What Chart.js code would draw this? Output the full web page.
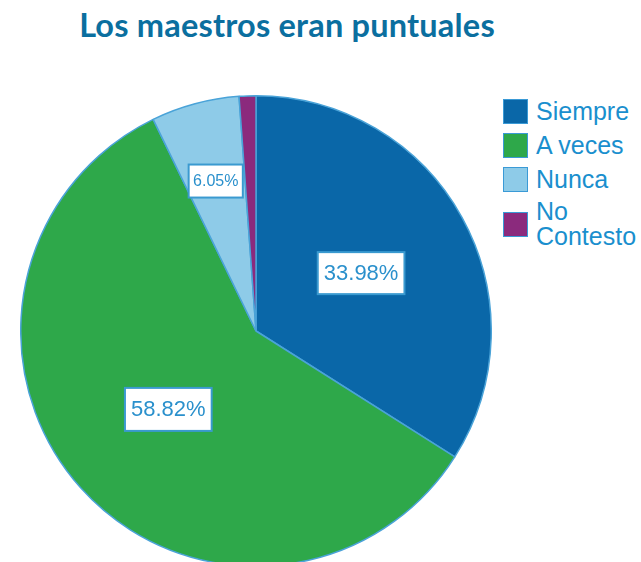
<!DOCTYPE html>
<html>
<head>
<meta charset="utf-8">
<script src="https://cdn.jsdelivr.net/npm/chart.js@4.4.1/dist/chart.umd.min.js"></script>
<style>
  html, body { margin: 0; padding: 0; background: #fff; overflow: hidden; }
  body { width: 641px; height: 562px; position: relative; }
  #titulo {
    position: absolute; left: 0; top: 5px; width: 574px; text-align: center;
    font: bold 32.5px "Lato", sans-serif; color: #0b6f9f; letter-spacing: 0.2px;
  }
  #wrap { position: absolute; left: 20px; top: 95px; width: 472px; height: 472px; }
  #leyenda { position: absolute; left: 503px; top: 94px; font: 25px "Liberation Sans", Arial, sans-serif; color: #1a8fce; }
  .item { display: flex; align-items: center; height: 34px; }
  .item .cuadro { width: 23px; height: 23px; border: 1.5px solid #3a9ad6; margin-right: 8px; flex: none; }
  .item .txt { line-height: 25px; width: 110px; }
</style>
</head>
<body>
<div id="titulo">Los maestros eran puntuales</div>
<div id="wrap"><canvas id="grafico"></canvas></div>
<div id="leyenda"></div>

<script>
// DADOS
const categorias = ["Siempre", "A veces", "Nunca", "No Contesto"];
const valores = [33.98, 58.82, 6.05, 1.15];
const rotulos = ["33.98%", "58.82%", "6.05%", ""];
const cores = ["#0a67a8", "#2ea84a", "#8ecbe8", "#8b2a7d"];

// posição dos rótulos (fração do raio), fonte e altura da caixa
const distRotulo = [0.51, 0.5, 0.66, 0];
const fonteRotulo = [22, 22, 16, 0];
const altoCaixa = [42, 43, 33, 0];

// plugin que desenha as caixas brancas com as porcentagens
const caixasRotulo = {
  id: "caixasRotulo",
  afterDatasetsDraw(chart) {
    const ctx = chart.ctx;
    const arcos = chart.getDatasetMeta(0).data;
    arcos.forEach((arco, i) => {
      if (!rotulos[i]) return;
      const meio = (arco.startAngle + arco.endAngle) / 2;
      const r = arco.outerRadius * distRotulo[i];
      const x = arco.x + Math.cos(meio) * r;
      const y = arco.y + Math.sin(meio) * r;
      const tam = fonteRotulo[i];
      ctx.save();
      ctx.font = tam + 'px "Liberation Sans", Arial, sans-serif';
      const w = ctx.measureText(rotulos[i]).width + tam * 0.55;
      const h = altoCaixa[i];
      ctx.fillStyle = "#fff";
      ctx.strokeStyle = "#3a9ad0";
      ctx.lineWidth = 2;
      ctx.fillRect(x - w / 2, y - h / 2, w, h);
      ctx.strokeRect(x - w / 2, y - h / 2, w, h);
      ctx.fillStyle = "#2a90cc";
      ctx.textAlign = "center";
      ctx.textBaseline = "middle";
      ctx.fillText(rotulos[i], x, y + 1);
      ctx.restore();
    });
  },
};

let grafico = new Chart(document.querySelector("#grafico"), {
  type: "pie",
  data: {
    labels: categorias,
    datasets: [
      {
        data: valores,
        backgroundColor: cores,
        borderColor: "#4aa3d8",
        borderWidth: 1.5,
        hoverOffset: 0,
      },
    ],
  },
  options: {
    responsive: true,
    maintainAspectRatio: false,
    animation: false,
    layout: { padding: 0 },
    plugins: { legend: { display: false }, tooltip: { enabled: false } },
  },
  plugins: [caixasRotulo],
});

// LEGENDA
const leyenda = document.querySelector("#leyenda");
categorias.forEach((c, i) => {
  const div = document.createElement("div");
  div.className = "item";
  div.innerHTML = `<div class="cuadro" style="background:${cores[i]}"></div><div class="txt">${c.replace(" Contesto", "<br>Contesto")}</div>`;
  if (i === 3) div.style.height = "56px";
  leyenda.appendChild(div);
});
</script>
</body>
</html>
